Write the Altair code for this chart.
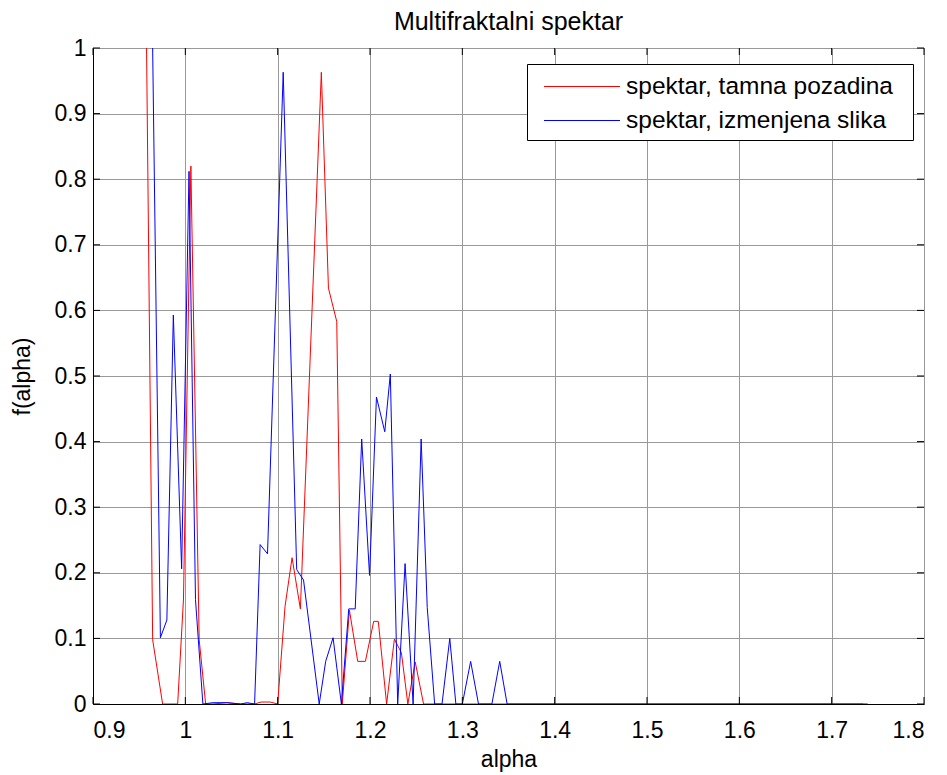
import altair as alt
import pandas as pd

# ---- data ----
red_alpha = [0.958, 0.9646, 0.9754, 0.9917, 0.998, 1.006, 1.015, 1.022,
             1.030, 1.045, 1.060, 1.075, 1.082, 1.092, 1.100,
             1.108, 1.1156, 1.1246, 1.1473, 1.155, 1.164, 1.170,
             1.1777, 1.1867, 1.195, 1.204, 1.209, 1.218, 1.2264, 1.234,
             1.241, 1.249, 1.258, 1.300, 1.400, 1.500, 1.600, 1.700, 1.734]
red_f = [1.0, 0.098, 0.0, 0.0, 0.16, 0.82, 0.098, 0.0,
         0.0, 0.002, 0.0, 0.0, 0.003, 0.003, 0.0,
         0.149, 0.223, 0.145, 0.963, 0.634, 0.583, 0.0,
         0.143, 0.065, 0.065, 0.126, 0.126, 0.0, 0.099, 0.078,
         0.0, 0.064, 0.0, 0.0, 0.0, 0.0, 0.0, 0.0, 0.0]

blue_alpha = [0.9646, 0.973, 0.980, 0.987, 0.996, 1.004, 1.011, 1.019,
              1.030, 1.045, 1.060, 1.067, 1.075,
              1.081, 1.089, 1.106, 1.1206, 1.128, 1.145, 1.152, 1.160, 1.169,
              1.177, 1.184, 1.191, 1.1995, 1.207, 1.216, 1.222, 1.230,
              1.238, 1.2467, 1.2554, 1.262, 1.270, 1.278, 1.2864, 1.293,
              1.300, 1.309, 1.3175, 1.332, 1.3405, 1.3485,
              1.400, 1.500, 1.600, 1.700, 1.739]
blue_f = [1.0, 0.101, 0.128, 0.593, 0.206, 0.812, 0.159, 0.0,
          0.002, 0.002, 0.0, 0.002, 0.0,
          0.243, 0.229, 0.963, 0.205, 0.189, 0.0, 0.065, 0.101, 0.0,
          0.145, 0.145, 0.404, 0.196, 0.468, 0.415, 0.503, 0.0,
          0.214, 0.0, 0.404, 0.147, 0.0, 0.0, 0.100, 0.0,
          0.0, 0.065, 0.0, 0.0, 0.065, 0.0,
          0.0, 0.0, 0.0, 0.0, 0.0]

series_names = ["spektar, tamna pozadina", "spektar, izmenjena slika"]
series_colors = ["#ff0000", "#0000ff"]

x_ticks = [0.9, 1.0, 1.1, 1.2, 1.3, 1.4, 1.5, 1.6, 1.7, 1.8]
y_ticks = [0.0, 0.1, 0.2, 0.3, 0.4, 0.5, 0.6, 0.7, 0.8, 0.9, 1.0]

# ---- build tables ----
rows = []
for i, (a, f) in enumerate(zip(red_alpha, red_f)):
    rows.append({"alpha": a, "f": f, "series": series_names[0], "idx": i})
for i, (a, f) in enumerate(zip(blue_alpha, blue_f)):
    rows.append({"alpha": a, "f": f, "series": series_names[1], "idx": i})
df = pd.DataFrame(rows)
xt = pd.DataFrame({"alpha": x_ticks})
yt = pd.DataFrame({"f": y_ticks})

W, H = 831, 656
FONT = "Liberation Sans"
FS = 23
LFS = 24.5
TICK = 7

common_axis = dict(labelFont=FONT, labelFontSize=FS, labelColor="black",
                   titleFont=FONT, titleFontSize=FS, titleFontWeight="normal",
                   titleColor="black", tickSize=0, domainColor="black",
                   domainWidth=1, grid=True, gridColor="#999999", gridWidth=1,
                   format="~g")

x_scale = alt.Scale(domain=[0.9, 1.8], nice=False, zero=False)
y_scale = alt.Scale(domain=[0, 1], nice=False)
x_axis = alt.Axis(values=x_ticks, title="alpha", labelPadding=15,
                  titlePadding=6, **common_axis)
y_axis = alt.Axis(values=y_ticks, title="f(alpha)", labelPadding=7,
                  titlePadding=20, **common_axis)
X = alt.X("alpha:Q", scale=x_scale, axis=x_axis)
Y = alt.Y("f:Q", scale=y_scale, axis=y_axis)

lines = alt.Chart(df).mark_line(strokeWidth=1, clip=True).encode(
    x=X, y=Y,
    color=alt.Color("series:N",
                    scale=alt.Scale(domain=series_names, range=series_colors),
                    legend=alt.Legend(title="i", titleOrient="right",
                                      titleOpacity=0, titlePadding=5,
                                      titleFontSize=LFS, titleFont=FONT,
                                      orient="none",
                                      legendX=434, legendY=16,
                                      symbolType="M-0.393,0H5.036", symbolSize=784,
                                      symbolStrokeWidth=1,
                                      rowPadding=8, labelFont=FONT,
                                      labelFontSize=LFS, labelColor="black",
                                      labelOffset=62, labelLimit=0, padding=8,
                                      strokeColor="black", fillColor="white")),
    order="idx:Q",
)

bottom_ticks = alt.Chart(xt).mark_rule(color="black", strokeWidth=1).encode(
    x=X, y=alt.value(H), y2=alt.value(H - TICK))
top_ticks = alt.Chart(xt).mark_rule(color="black", strokeWidth=1).encode(
    x=X, y=alt.value(0), y2=alt.value(TICK))
left_ticks = alt.Chart(yt).mark_rule(color="black", strokeWidth=1).encode(
    y=Y, x=alt.value(0), x2=alt.value(TICK))
right_ticks = alt.Chart(yt).mark_rule(color="black", strokeWidth=1).encode(
    y=Y, x=alt.value(W - TICK), x2=alt.value(W))

chart = alt.layer(lines, bottom_ticks, top_ticks, left_ticks, right_ticks).properties(
    width=W, height=H,
    title=alt.TitleParams("Multifraktalni spektar", font=FONT, fontSize=25,
                          fontWeight="normal", color="black", anchor="middle",
                          offset=2),
    autosize=alt.AutoSizeParams(type="none"),
    padding={"left": 85, "top": 40, "right": 15, "bottom": 71},
).configure_view(
    stroke="black", strokeWidth=1,
).configure(background="white")

chart.save("out.html", embed_options={"renderer": "svg", "actions": False})
